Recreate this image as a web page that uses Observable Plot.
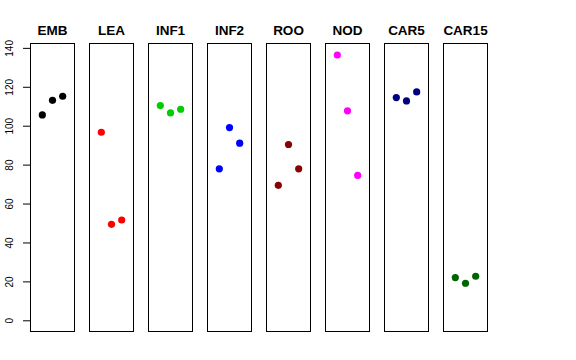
<!DOCTYPE html>
<html><head>
<meta charset="utf-8">
<script src="https://cdn.jsdelivr.net/npm/d3@7"></script>
<script src="https://cdn.jsdelivr.net/npm/@observablehq/plot@0.6"></script>
<style>body{margin:0;background:#fff}</style>
</head><body><div id="chart"></div>
<script>
const groups = ["EMB","LEA","INF1","INF2","ROO","NOD","CAR5","CAR15"];
const colors = ["#000000","#FF0000","#00CD00","#0000FF","#8B0000","#FF00FF","#000080","#006400"];
const reps = [1, 2, 3];
const EMB   = [105.8, 113.3, 115.4];
const LEA   = [96.9, 49.6, 51.8];
const INF1  = [110.6, 106.8, 108.7];
const INF2  = [78.1, 99.3, 91.3];
const ROO   = [69.6, 90.6, 78.1];
const NOD   = [136.6, 107.9, 74.7];
const CAR5  = [114.7, 113.0, 117.6];
const CAR15 = [22.2, 19.3, 22.9];
const yTicks = [0, 20, 40, 60, 80, 100, 120, 140];

const series = [EMB, LEA, INF1, INF2, ROO, NOD, CAR5, CAR15];
const data = groups.flatMap((g, i) => series[i].map((v, j) => ({group: g, rep: reps[j], value: v})));

const chart = Plot.plot({
  width: 576, height: 360,
  marginLeft: 29, marginRight: 88, marginTop: 43, marginBottom: 29,
  style: {fontFamily: "'Liberation Sans', Arial, Helvetica, sans-serif", fontSize: "10px", background: "white", color: "black"},
  fx: {domain: groups, paddingInner: 0.248, paddingOuter: 0, axis: null, label: null},
  x: {domain: [-0.16, 4.16], axis: null},
  y: {domain: [-5.5, 142.5], axis: null},
  color: {domain: groups, range: colors},
  facet: {data, x: "group"},
  marks: [
    Plot.frame({stroke: "black", strokeWidth: 1}),
    Plot.axisY(yTicks, {tickSize: 7, tickRotate: -90, tickPadding: 11, fontSize: 10, label: null}),
    Plot.dot(data, {x: "rep", y: "value", fill: "group", r: 3.6}),
    Plot.text(data, Plot.selectFirst({text: "group", frameAnchor: "top", dy: -18, fontWeight: "bold", fontSize: 13.5, fill: "black"}))
  ]
});
document.getElementById("chart").appendChild(chart);
</script>
</body></html>
